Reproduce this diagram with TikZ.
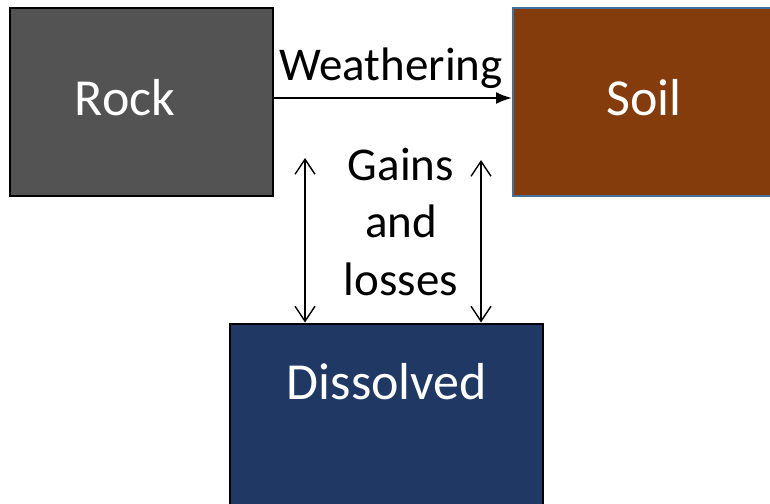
\documentclass[tikz,border=0pt]{standalone}
\usepackage{fontspec}
\setmainfont{Carlito}
\usetikzlibrary{arrows.meta}
\definecolor{crock}{HTML}{535353}
\definecolor{csoil}{HTML}{843C0C}
\definecolor{csoiledge}{HTML}{41719C}
\definecolor{cwater}{HTML}{1F3864}
\tikzset{
  box/.style={draw=#1, line width=2pt, inner sep=0pt},
  box/.default=black,
  boxtext/.style={text=white, anchor=base, font=\fontsize{52}{62}\selectfont},
  flowtext/.style={anchor=base, align=center, font=\fontsize{47}{57.5}\selectfont},
  arrow/.style={-{Latex[length=16pt, width=12pt]}, line width=2pt},
  exchange/.style={{Straight Barb[length=15pt, width=20pt]}-{Straight Barb[length=15pt, width=20pt]}, line width=1.4pt},
}

\begin{document}
\begin{tikzpicture}[x=1pt, y=-1pt]
  \useasboundingbox (0,0) rectangle (770,503);
  % the three reservoirs
  \node[box, fill=crock, minimum width=263, minimum height=188] (rock) at (141.5,102) {};
  \node[box=csoiledge, fill=csoil, minimum width=262, minimum height=188] (soil) at (644,102) {};
  \node[box, fill=cwater, minimum width=313, minimum height=182] (dissolved) at (386.5,414.5) {};
  \node[boxtext] (rock label) at (125,115) {Rock};
  \node[boxtext] (soil label) at (644,115) {Soil};
  \node[boxtext] (dissolved label) at (387,399) {Dissolved};
  % weathering
  \draw[arrow] ([yshift=4pt]rock.east) -- ([yshift=4pt]soil.west);
  \node[flowtext] (weathering) at (391,80) {Weathering};
  % exchange with the dissolved pool
  \coordinate (left top) at (305,158);
  \coordinate (right top) at (481,160);
  \draw[exchange] (left top) -- (left top |- dissolved.north);
  \draw[exchange] (right top) -- (right top |- dissolved.north);
  \node[flowtext] (exchange label) at (401,295) {Gains\\and\\losses};
\end{tikzpicture}
\end{document}
